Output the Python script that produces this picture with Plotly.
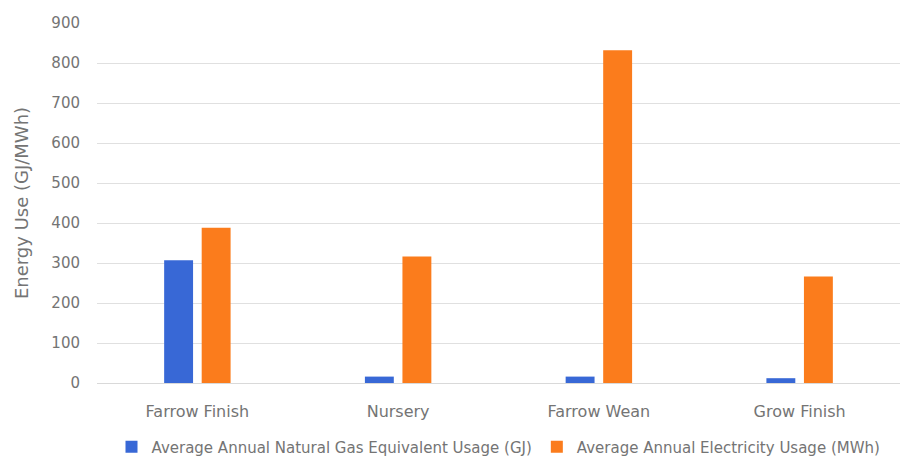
import plotly.graph_objects as go

categories = ["Farrow Finish", "Nursery", "Farrow Wean", "Grow Finish"]
gas_gj = [307, 16, 16, 12]
electricity_mwh = [388, 316, 832, 266]
y_ticks = [0, 100, 200, 300, 400, 500, 600, 700, 800, 900]

font_family = "DejaVu Sans, Liberation Sans, sans-serif"
text_grey = "#747474"

fig = go.Figure()
fig.add_trace(go.Bar(
    x=categories, y=gas_gj,
    name="Average Annual Natural Gas Equivalent Usage (GJ)",
    marker=dict(color="#3868d6", line=dict(width=0)),
))
fig.add_trace(go.Bar(
    x=categories, y=electricity_mwh,
    name="Average Annual Electricity Usage (MWh)",
    marker=dict(color="#fb7c1c", line=dict(width=0)),
))

fig.update_layout(
    width=910, height=462,
    margin=dict(l=97, r=10, t=23, b=79, autoexpand=False),
    paper_bgcolor="white", plot_bgcolor="white",
    barmode="group", bargap=0.626, bargroupgap=0.23,
    font=dict(family=font_family, size=15, color=text_grey),
    showlegend=True,
    legend=dict(
        orientation="h", x=0.5, xanchor="center", y=-0.178, yanchor="middle",
        font=dict(size=15, color=text_grey), itemwidth=30,
        traceorder="normal", tracegroupgap=0,
    ),
    xaxis=dict(
        showgrid=False, ticks="", showline=True, linecolor="#d9d9d9", linewidth=1,
        tickfont=dict(size=16, color=text_grey), ticklabelstandoff=14,
    ),
    yaxis=dict(
        range=[0, 900], tickvals=y_ticks, showgrid=True, gridcolor="#e0e0e0",
        gridwidth=1, zeroline=False, ticks="", showline=False,
        tickfont=dict(size=15, color=text_grey), ticklabelstandoff=16,
        title=dict(text="Energy Use (GJ/MWh)", font=dict(size=18, color=text_grey), standoff=18),
    ),
)

fig.write_html("out.html")
